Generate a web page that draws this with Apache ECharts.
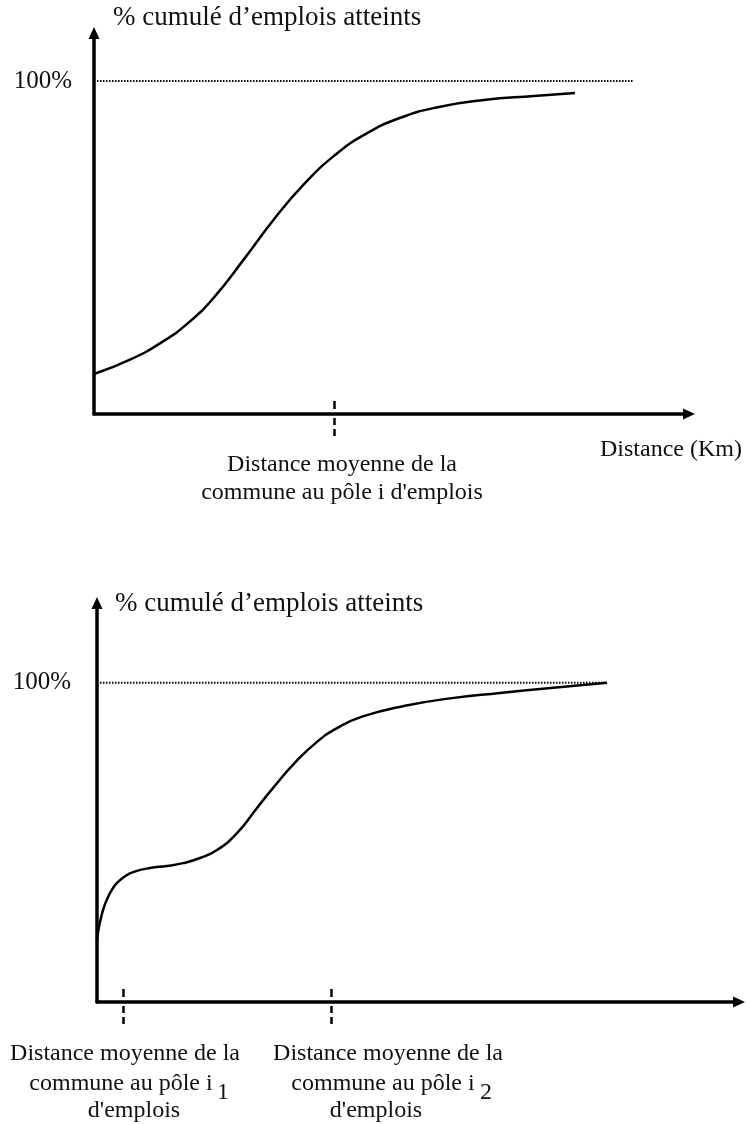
<!DOCTYPE html>
<html>
<head>
<meta charset="utf-8">
<script src="https://cdn.jsdelivr.net/npm/echarts@6/dist/echarts.min.js"></script>
<style>
html,body{margin:0;padding:0;background:#fff;}
#c{width:746px;height:1124px;}
</style>
</head>
<body>
<div id="c"></div>
<script>
// ---- Data (top level) ----
// Chart 1: single job pole
const curve1X = [0, 36, 69, 96, 120, 150, 180, 210, 240, 270, 305, 345, 390, 440, 481];
const curve1Y = [12.0, 16.3, 21.8, 27.8, 35.0, 46.5, 58.5, 69.0, 77.5, 83.8, 88.8, 92.2, 94.3, 95.5, 96.4];
const ref1X = [3, 539];
const ref1Y = [100, 100];
const ticks1 = [240];

// Chart 2: two job poles
const curve2X = [0, 1, 3, 6, 10, 15, 20, 28, 36, 53, 70, 86, 103, 120, 140, 160, 178, 198, 220, 240, 265, 308, 355, 403, 451, 510];
const curve2Y = [19.0, 21.8, 25.0, 28.8, 32.2, 35.2, 37.3, 39.4, 40.7, 42.0, 42.6, 43.5, 45.1, 47.6, 52.9, 60.8, 67.8, 75.0, 81.5, 85.8, 89.4, 92.8, 95.2, 96.8, 98.3, 100];
const ref2X = [3, 508];
const ref2Y = [100, 100];
const ticks2 = [26, 234];

const yLabelValues = [100];
const yTitle = '% cumulé d’emplois atteints';
const xTitle1 = 'Distance (Km)';
const poleLabel1 = ['Distance moyenne de la', "commune au pôle i d'emplois"];
const poleLabel2a = ['Distance moyenne de la', 'commune au pôle i', '1', "d'emplois"];
const poleLabel2b = ['Distance moyenne de la', 'commune au pôle i', '2', "d'emplois"];

const zip = (xs, ys) => xs.map((x, i) => [x, ys[i]]);

const FONT = '"Liberation Serif", "Times New Roman", serif';
const INK = '#000';
const TXT = '#111';

function axesFor(gi, xMax, yMax, ticks, labelMargin) {
  const xBase = {
    type: 'value', gridIndex: gi, min: 0, max: xMax, position: 'bottom',
    splitLine: { show: false }, axisLabel: { show: false }
  };
  return {
    x: [
      Object.assign({}, xBase, {
        axisLine: { show: true, lineStyle: { color: INK, width: 3.5 }, symbol: ['none', 'triangle'], symbolSize: [11, 12] },
        axisTick: { show: true, inside: true, length: 14, customValues: ticks,
          lineStyle: { color: INK, width: 2.5, type: [8, 5], dashOffset: 8 } }
      }),
      Object.assign({}, xBase, {
        axisLine: { show: false },
        axisTick: { show: true, inside: false, length: 22, customValues: ticks,
          lineStyle: { color: INK, width: 2.5, type: [7, 4], dashOffset: 7 } }
      })
    ],
    y: {
      type: 'value', gridIndex: gi, min: 0, max: yMax,
      splitLine: { show: false },
      axisTick: { show: false },
      axisLine: { show: true, lineStyle: { color: INK, width: 3.5 }, symbol: ['none', 'triangle'], symbolSize: [11, 12] },
      axisLabel: { show: true, customValues: yLabelValues, formatter: '{value}%', margin: labelMargin,
        fontFamily: FONT, fontSize: 25, color: TXT }
    }
  };
}

const a1 = axesFor(0, 595, 114.4, ticks1, 22);
const a2 = axesFor(1, 642, 125.0, ticks2, 26);

function txt(text, x, y, size, align) {
  return { type: 'text', x: x, y: y, silent: true,
    style: { text: text, font: size + 'px ' + FONT, fill: TXT, textAlign: align || 'center', textVerticalAlign: 'middle' } };
}

const option = {
  animation: false,
  backgroundColor: '#fff',
  grid: [
    { left: 94, right: 57, top: 33, bottom: 710 },
    { left: 97, right: 7, top: 603, bottom: 122 }
  ],
  xAxis: [a1.x[0], a1.x[1], a2.x[0], a2.x[1]],
  yAxis: [a1.y, a2.y],
  series: [
    { type: 'line', xAxisIndex: 0, yAxisIndex: 0, data: zip(curve1X, curve1Y), smooth: 0.5, symbol: 'none',
      lineStyle: { color: INK, width: 2.5 } },
    { type: 'line', xAxisIndex: 0, yAxisIndex: 0, data: zip(ref1X, ref1Y), symbol: 'none',
      lineStyle: { color: INK, width: 2, type: [1.5, 1.5] } },
    { type: 'line', xAxisIndex: 2, yAxisIndex: 1, data: zip(curve2X, curve2Y), smooth: 0.5, symbol: 'none',
      lineStyle: { color: INK, width: 2.5 } },
    { type: 'line', xAxisIndex: 2, yAxisIndex: 1, data: zip(ref2X, ref2Y), symbol: 'none',
      lineStyle: { color: INK, width: 2, type: [1.5, 1.5] } }
  ],
  graphic: [
    txt(yTitle, 113, 18, 27, 'left'),
    txt(xTitle1, 600, 450, 24, 'left'),
    txt(poleLabel1[0], 342, 465, 24),
    txt(poleLabel1[1], 342, 493, 24),
    txt(yTitle, 115, 604, 27, 'left'),
    txt(poleLabel2a[0], 125, 1054, 24),
    txt(poleLabel2a[1], 121, 1084, 24),
    txt(poleLabel2a[2], 217, 1093, 24, 'left'),
    txt(poleLabel2a[3], 134, 1111, 24),
    txt(poleLabel2b[0], 388, 1054, 24),
    txt(poleLabel2b[1], 383, 1084, 24),
    txt(poleLabel2b[2], 480, 1093, 24, 'left'),
    txt(poleLabel2b[3], 376, 1111, 24)
  ]
};

const chart = echarts.init(document.getElementById('c'), null, { renderer: 'canvas' });
chart.setOption(option);
</script>
</body>
</html>
